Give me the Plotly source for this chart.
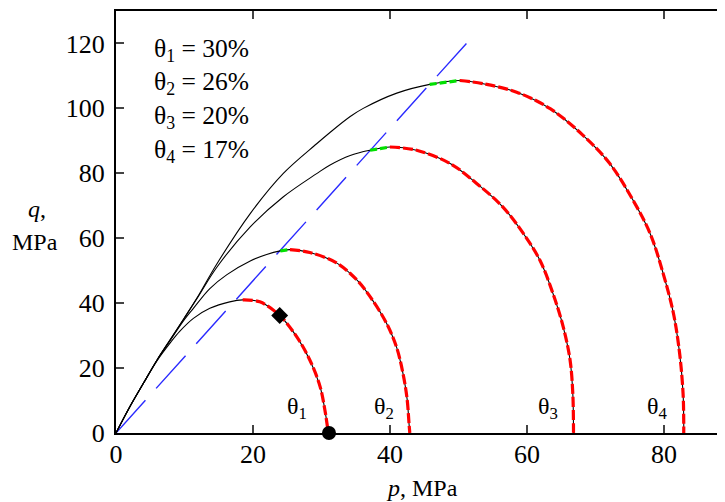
import plotly.graph_objects as go

# ---- data ----
theta_names = ["θ<sub>1</sub>", "θ<sub>2</sub>", "θ<sub>3</sub>", "θ<sub>4</sub>"]
theta_values = ["30%", "26%", "20%", "17%"]

# stress paths (black curves), p and q in MPa
p1 = [0, 2.0, 4.0, 6.0, 8.0, 9.3, 11.3, 13.7, 16.6, 18.5, 21.0, 23.9, 26.4, 28.3, 29.8, 30.5, 30.8, 31.0]
q1 = [0, 8.0, 15.3, 22.3, 28.0, 31.3, 35.3, 38.4, 40.4, 41.0, 40.4, 36.2, 29.6, 22.5, 14.3, 7.1, 3.0, 0]

p2 = [0, 2.0, 4.0, 6.0, 8.0, 10.0, 11.3, 13.7, 16.2, 19.6, 22.0, 24.0, 25.4, 28.3, 32.2, 35.1, 37.1, 39.5, 41.0, 41.9, 42.5, 42.8, 42.9]
q2 = [0, 8.0, 15.3, 22.5, 28.8, 35.0, 38.4, 44.5, 48.8, 53.0, 55.0, 56.1, 56.5, 55.6, 52.4, 47.3, 42.0, 33.8, 26.2, 18.4, 10.6, 2.5, 0]

p3 = [0, 2.0, 4.0, 6.0, 8.0, 10.0, 12.0, 14.7, 19.6, 24.4, 29.3, 31.2, 34.2, 37.1, 40.0, 43.9, 48.8, 52.7, 56.5, 59.5, 61.9, 63.8, 65.3, 66.3, 66.7, 66.8, 66.8]
q3 = [0, 8.0, 15.3, 22.5, 29.0, 35.5, 42.0, 51.0, 63.5, 72.7, 79.9, 82.5, 85.5, 87.1, 88.1, 87.1, 83.0, 76.8, 69.6, 61.4, 53.2, 43.0, 32.7, 22.5, 12.2, 1.9, 0]

p4 = [0, 2.0, 4.0, 6.0, 8.0, 10.0, 12.0, 14.7, 19.6, 24.4, 29.3, 31.2, 34.2, 36.1, 41.0, 45.8, 50.2, 53.6, 58.5, 63.4, 68.2, 72.1, 75.5, 78.0, 79.9, 81.4, 82.3, 82.8, 82.9, 82.9]
q4 = [0, 8.0, 15.3, 22.5, 29.0, 35.5, 42.2, 52.0, 67.6, 79.9, 89.1, 92.5, 97.5, 100.0, 104.7, 107.4, 108.6, 107.6, 105.0, 99.9, 91.7, 83.0, 71.7, 61.4, 49.1, 36.8, 24.5, 12.2, 3.0, 0]

# index where the green (peak) segment starts and where the red segment starts
green_start = [9, 11, 13, 15]
red_start = [9, 12, 14, 16]

# critical state line (blue dashed)
csl_p = [0, 51.8]
csl_q = [0, 121.5]

# special points
diamond_p, diamond_q = [23.9], [36.2]
circle_p, circle_q = [31.1], [0]

# θ label positions near the x axis
label_p = [26.4, 39.1, 63.1, 79.1]
label_q = [7.6, 7.6, 7.6, 7.6]
# inset text rows
legend_p = 5.2
legend_q = [118.0, 107.7, 97.5, 87.0]

curves = [(p1, q1), (p2, q2), (p3, q3), (p4, q4)]

FONT = "Liberation Serif"
W, H = 725, 494
L, R, T, B = 108, 2, 3, 69
# screen geometry (page body has an 8px margin)
PX0, PY0 = 8 + L, 8 + T
PW, PH = W - L - R, H - T - B


def paper(sx, sy):
    return (sx - PX0) / PW, 1 - (sy - PY0) / PH


fig = go.Figure()

fig.add_trace(go.Scatter(x=csl_p, y=csl_q, mode="lines",
                         line=dict(color="#2a2aff", width=1.4, dash="44px,16px"),
                         showlegend=False, hoverinfo="skip"))

for i, (pp, qq) in enumerate(curves):
    fig.add_trace(go.Scatter(x=pp, y=qq, mode="lines",
                             line=dict(color="black", width=1.1, shape="spline", smoothing=1.0),
                             showlegend=False))
    gs, rs = green_start[i], red_start[i]
    if rs > gs:
        fig.add_trace(go.Scatter(x=pp[gs:rs + 1], y=qq[gs:rs + 1], mode="lines",
                                 line=dict(color="#00e000", width=3.2, dash="7px,3px",
                                           shape="spline", smoothing=1.0),
                                 showlegend=False))
    fig.add_trace(go.Scatter(x=pp[rs:], y=qq[rs:], mode="lines",
                             line=dict(color="#ff0000", width=3.2, dash="10px,3px",
                                       shape="spline", smoothing=1.0),
                             showlegend=False))

fig.add_trace(go.Scatter(x=diamond_p, y=diamond_q, mode="markers",
                         marker=dict(symbol="diamond", size=13, color="black"),
                         showlegend=False))
fig.add_trace(go.Scatter(x=circle_p, y=circle_q, mode="markers",
                         marker=dict(symbol="circle", size=14, color="black"),
                         cliponaxis=False, showlegend=False))

annotations = []
for i in range(4):
    annotations.append(dict(x=legend_p, y=legend_q[i], xref="x", yref="y",
                            text=f"{theta_names[i]} = {theta_values[i]}",
                            showarrow=False, xanchor="left", yanchor="middle",
                            font=dict(family=FONT, size=25.5, color="black")))
    annotations.append(dict(x=label_p[i], y=label_q[i], xref="x", yref="y",
                            text=theta_names[i], showarrow=False,
                            xanchor="center", yanchor="middle",
                            font=dict(family=FONT, size=24, color="black")))

for txt, sx, sy in [("<i>q</i>,", 37, 209), ("MPa", 35, 242), ("<i>p</i>, MPa", 422, 488)]:
    xp, yp = paper(sx, sy)
    annotations.append(dict(x=xp, y=yp, xref="paper", yref="paper", text=txt,
                            showarrow=False, xanchor="center", yanchor="middle",
                            font=dict(family=FONT, size=24, color="black")))

fig.update_layout(
    width=W, height=H,
    margin=dict(l=L, r=R, t=T, b=B, autoexpand=False),
    paper_bgcolor="white", plot_bgcolor="white",
    annotations=annotations,
    font=dict(family=FONT, size=26, color="black"),
)
fig.update_xaxes(range=[0, 89.8], tickvals=[0, 20, 40, 60, 80], ticks="inside", ticklen=8,
                 tickwidth=1.5, showline=True, linecolor="black", linewidth=2, mirror="ticks",
                 showgrid=False, zeroline=False, ticklabelstandoff=-3,
                 tickfont=dict(family=FONT, size=26))
fig.update_yaxes(range=[0, 130], tickvals=[0, 20, 40, 60, 80, 100, 120], ticks="inside", ticklen=8,
                 tickwidth=1.5, showline=True, linecolor="black", linewidth=2, mirror="ticks",
                 showgrid=False, zeroline=False, ticklabelstandoff=4,
                 tickfont=dict(family=FONT, size=26))

fig.write_html("out.html")
